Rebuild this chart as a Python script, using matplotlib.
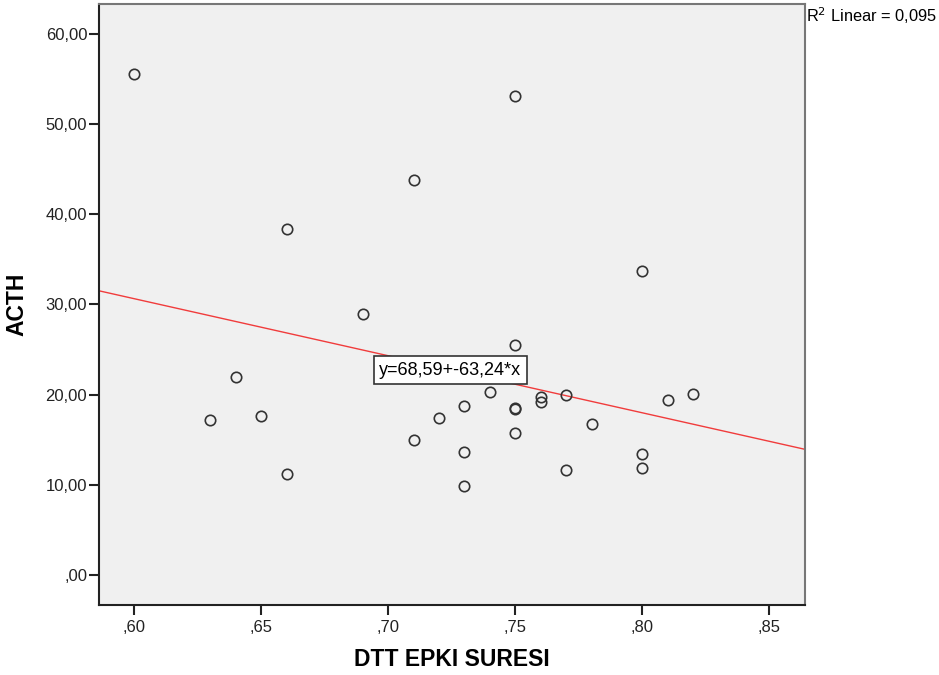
import matplotlib
matplotlib.use("Agg")
import matplotlib.pyplot as plt
import numpy as np

plt.rcParams['font.family'] = ['Liberation Sans', 'DejaVu Sans']

# DTT EPKI SURESI vs ACTH
dtt = [0.60, 0.63, 0.64, 0.65, 0.66, 0.66, 0.69, 0.71, 0.71, 0.72,
       0.73, 0.73, 0.73, 0.74, 0.75, 0.75, 0.75, 0.75, 0.75, 0.76,
       0.76, 0.77, 0.77, 0.78, 0.80, 0.80, 0.80, 0.81, 0.82]
acth = [55.5, 17.2, 22.0, 17.6, 38.4, 11.2, 29.0, 43.8, 15.0, 17.4,
        18.8, 13.7, 9.9, 20.3, 53.1, 25.5, 18.4, 18.5, 15.8, 19.8,
        19.2, 20.0, 11.7, 16.8, 33.7, 13.4, 11.9, 19.4, 20.1]

intercept = 68.59
slope = -63.24
r2 = 0.095

x_ticks = [0.60, 0.65, 0.70, 0.75, 0.80, 0.85]
y_ticks = [0, 10, 20, 30, 40, 50, 60]

fig = plt.figure(figsize=(9.39, 6.75), dpi=100)
ax = fig.add_axes([99 / 939, 70 / 675, 706 / 939, 601 / 675])
ax.set_facecolor('#f0f0f0')

xmin, xmax = 0.5862, 0.864
ax.set_xlim(xmin, xmax)
ax.set_ylim(-3.3, 63.3)

# fit line across the whole axis
lx = np.array([xmin, xmax])
ax.plot(lx, intercept + slope * lx, color='#f03c3c', lw=1.0, zorder=2)

ax.plot(dtt, acth, linestyle='none', marker='o', markersize=7.5,
        markerfacecolor='none', markeredgecolor='#333333',
        markeredgewidth=1.2, zorder=3)

ax.set_xticks(x_ticks)
ax.set_xticklabels([f"{v:.2f}".lstrip('0').replace('.', ',') for v in x_ticks])
ax.set_yticks(y_ticks)
ax.set_yticklabels([f"{v:.2f}".replace('.', ',') if v else ",00" for v in y_ticks])
ax.tick_params(direction='out', length=7, width=1.5, colors='#222222',
               labelsize=12, pad=1.5)
ax.tick_params(axis='x', pad=4)

for side in ['left', 'bottom']:
    ax.spines[side].set_color('#222222')
    ax.spines[side].set_linewidth(1.5)
for side in ['right', 'top']:
    ax.spines[side].set_color('#777777')
    ax.spines[side].set_linewidth(1.5)

ax.set_xlabel('DTT EPKI SURESI', fontsize=16.5, fontweight='bold', labelpad=9)
ax.set_ylabel('ACTH', fontsize=16.5, fontweight='bold', labelpad=12)

ax.text(0.7245, 22.7, f"y={intercept:.2f}+{slope:.2f}*x".replace('.', ','),
        fontsize=13, ha='center', va='center', zorder=4,
        bbox=dict(boxstyle='square,pad=0.3', facecolor='white',
                  edgecolor='#333333', linewidth=1.2))

fig.text(806 / 939, 1 - 16 / 675, f"R$^2$ Linear = {r2:.3f}".replace('.', ','),
         fontsize=11.8, ha='left', va='center')

fig.savefig('out.png', dpi=100)
